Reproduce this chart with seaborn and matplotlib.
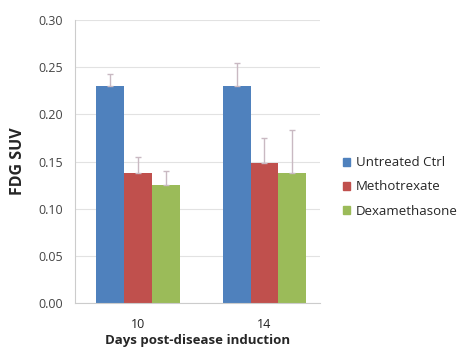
import numpy as np
import pandas as pd
import matplotlib
matplotlib.use("Agg")
import matplotlib.pyplot as plt
import seaborn as sns

# === DATA ===
days = ["10", "14"]
groups = ["Untreated Ctrl", "Methotrexate", "Dexamethasone"]
untreated = [0.230, 0.230]
methotrexate = [0.138, 0.148]
dexamethasone = [0.125, 0.138]
err_untreated = [0.013, 0.025]
err_methotrexate = [0.017, 0.027]
err_dexamethasone = [0.015, 0.045]
yticks = [0.00, 0.05, 0.10, 0.15, 0.20, 0.25, 0.30]

colors = ["#4F81BD", "#C0504D", "#9BBB59"]

df = pd.DataFrame({
    "Day": days * 3,
    "Group": [g for g in groups for _ in days],
    "SUV": untreated + methotrexate + dexamethasone,
    "err": err_untreated + err_methotrexate + err_dexamethasone,
})

sns.set_style("white")
plt.rcParams["font.family"] = ["Open Sans", "DejaVu Sans"]

fig = plt.figure(figsize=(4.61, 3.52), dpi=100)
ax = fig.add_axes([0.1627, 0.139, 0.5315, 0.804])

sns.barplot(data=df, x="Day", y="SUV", hue="Group", order=days, hue_order=groups,
            palette=colors, errorbar=None, width=0.66, saturation=1, linewidth=0,
            legend=False, ax=ax)

# Fehlerbalken nur nach oben (Excel-Stil)
for bars, g in zip(ax.containers, groups):
    sub = df[df["Group"] == g].set_index("Day").loc[days]
    xs = [b.get_x() + b.get_width() / 2 for b in bars]
    ax.errorbar(xs, sub["SUV"], yerr=[np.zeros(len(xs)), sub["err"]], fmt="none",
                ecolor="#c9b9c2", elinewidth=1, capsize=2.5, capthick=1, zorder=3)

ax.set_xlim(-0.5, 1.44)
ax.set_ylim(0, 0.30)
ax.set_yticks(yticks)
ax.set_yticklabels([f"{v:.2f}" for v in yticks], fontsize=9, color="#444444")
ax.tick_params(axis="x", labelsize=9, colors="#222222", length=0, pad=11)
ax.tick_params(axis="y", length=0, pad=8.5)
ax.grid(axis="y", color="#e2e2e2", lw=0.8)
ax.set_axisbelow(True)
for s in ["top", "right"]:
    ax.spines[s].set_visible(False)
for s in ["left", "bottom"]:
    ax.spines[s].set_color("#cccccc")

ax.set_ylabel("FDG SUV", fontsize=11.5, fontweight="bold", labelpad=9)
ax.set_xlabel("Days post-disease induction", fontsize=9.5, fontweight="bold", labelpad=2)

handles = [plt.Rectangle((0, 0), 1, 1, color=c) for c in colors]
fig.legend(handles, groups, loc="center left", bbox_to_anchor=(0.743, 0.469),
           frameon=False, fontsize=9.5, handlelength=0.55, handleheight=0.55,
           handletextpad=0.45, labelspacing=0.85, borderpad=0, borderaxespad=0)

fig.savefig("out.png", dpi=100)
